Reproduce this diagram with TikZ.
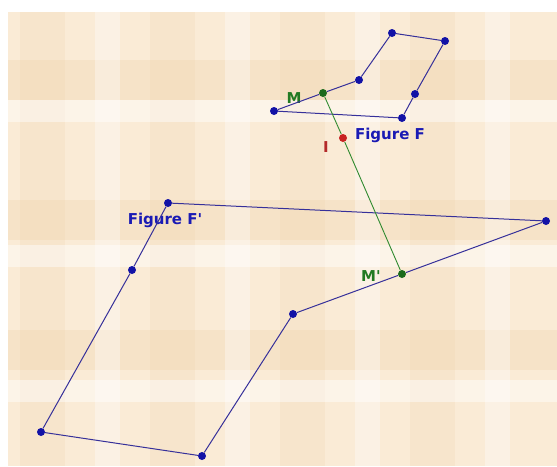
\documentclass[tikz,border=0pt]{standalone}
\usepackage{fontspec}
\setsansfont{DejaVu Sans}
\usetikzlibrary{positioning}
\definecolor{polyBlue}{HTML}{36309A}
\definecolor{dotBlue}{HTML}{1212A6}
\definecolor{segGreen}{HTML}{2F8A2F}
\definecolor{dotGreen}{HTML}{1C6A1C}
\definecolor{labelGreen}{HTML}{227A22}
\definecolor{dotRed}{HTML}{C82222}
\definecolor{labelRed}{HTML}{B42A2A}
\definecolor{labelBlue}{HTML}{1A1AB4}
\definecolor{paper}{HTML}{FAEBD6}
\definecolor{paperDark}{HTML}{F0D6B0}

\begin{document}
\begin{tikzpicture}[x=1pt, y=-1pt,
    pt/.style={circle, fill=dotBlue, inner sep=0pt, minimum size=8pt},
    ptM/.style={pt, fill=dotGreen},
    ptI/.style={pt, fill=dotRed},
    side/.style={draw=polyBlue, line width=1pt, line join=round},
    seg/.style={draw=segGreen, line width=0.9pt},
    lbl/.style={font=\sffamily\bfseries\fontsize{15}{15}\selectfont, inner sep=0pt}
]

% Background
\useasboundingbox (0,0) rectangle (557,466);
\fill[white] (0,0) rectangle (557,466);
\fill[paper] (8,12) rectangle (557,466);
\foreach \y in {60,200,330} {
    \fill[paperDark, opacity=0.35] (8,\y) rectangle (557,\y+40);
}
\foreach \x in {20,150,280,410} {
    \fill[paperDark, opacity=0.25] (\x,12) rectangle (\x+45,466);
}
\foreach \y in {100,245,380} {
    \fill[white, opacity=0.45] (8,\y) rectangle (557,\y+22);
}
\foreach \x in {95,225,355,485} {
    \fill[white, opacity=0.35] (\x,12) rectangle (\x+25,466);
}

% Nodes
\node[pt] (A) at (274,111) {};
\node[ptM] (M) at (323,93) {};
\node[pt] (B) at (359,80) {};
\node[pt] (C) at (392,33) {};
\node[pt] (D) at (445,41) {};
\node[pt] (P) at (415,94) {};
\node[pt] (E) at (402,118) {};
\node[ptI] (I) at (343,138) {};

\node[pt] (Ap) at (546,221) {};
\node[ptM] (Mp) at (402,274) {};
\node[pt] (Bp) at (293,314) {};
\node[pt] (Cp) at (202,456) {};
\node[pt] (Dp) at (41,432) {};
\node[pt] (Pp) at (132,270) {};
\node[pt] (Ep) at (168,203) {};

% Labels
\node[lbl, text=labelGreen] (labM) at (294,98) {M};
\node[lbl, text=labelRed] (labI) at (326,147) {I};
\node[lbl, text=labelBlue] (labF) at (390,135) {Figure F};
\node[lbl, text=labelGreen] (labMp) at (371,276) {M\textquotesingle};
\node[lbl, text=labelBlue] (labFp) at (165,220) {Figure F\textquotesingle};

% Connections
\draw[side] (A) -- (M) -- (B) -- (C) -- (D) -- (P) -- (E) -- (A);
\draw[side] (Ap) -- (Mp) -- (Bp) -- (Cp) -- (Dp) -- (Pp) -- (Ep) -- (Ap);
\draw[seg] (M) -- (I) -- (Mp);

\end{tikzpicture}
\end{document}
